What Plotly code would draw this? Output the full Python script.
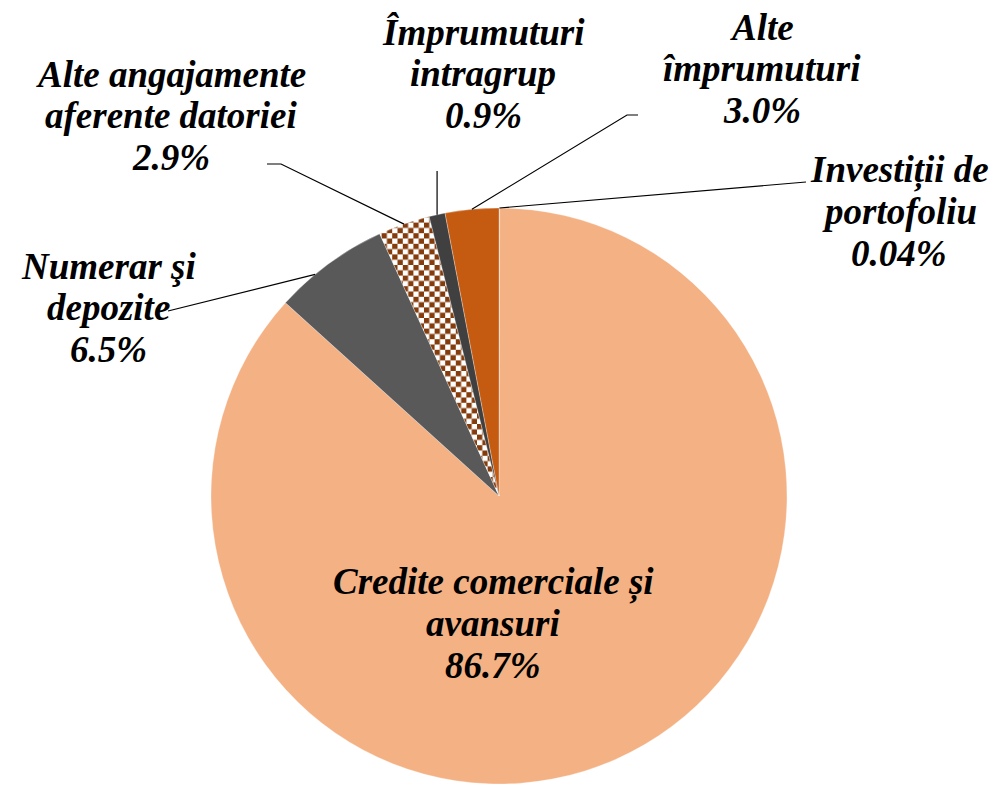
import math
import plotly.graph_objects as go

# ---- data ----
categories = ["Investiții de portofoliu", "Credite comerciale și avansuri", "Numerar şi depozite",
              "Alte angajamente aferente datoriei", "Împrumuturi intragrup", "Alte împrumuturi"]
values = [0.04, 86.7, 6.5, 2.9, 0.9, 3.0]
pct_labels = ["0.04%", "86.7%", "6.5%", "2.9%", "0.9%", "3.0%"]
name_lines = [["Investiții de", "portofoliu"], ["Credite comerciale și", "avansuri"],
              ["Numerar şi", "depozite"], ["Alte angajamente", "aferente datoriei"],
              ["Împrumuturi", "intragrup"], ["Alte", "împrumuturi"]]
colors = ["#F4B183", "#F4B183", "#595959", "#FFFFFF", "#404040", "#C55A11"]

W, H = 999, 785
CX, CY, R = 499, 496, 288

def px2paper(x, y):
    return x / W, 1 - y / H

total = sum(values)
starts = []
acc = 0
for v in values:
    starts.append(acc / total)
    acc += v

def edge(i, f=0.5):
    frac = starts[i] + f * values[i] / total
    a = frac * 2 * math.pi
    return CX + R * math.sin(a), CY - R * math.cos(a)

fig = go.Figure(go.Pie(
    values=values, labels=categories, sort=False, direction="clockwise", rotation=0,
    textinfo="none", hoverinfo="skip", showlegend=False,
    marker=dict(colors=colors, line=dict(color="rgba(255,255,255,0.6)", width=0.5),
                pattern=dict(shape=["", "", "", "x", "", ""], fgcolor="#843C0C",
                             bgcolor="#FFFFFF", size=10, solidity=0.5)),
    domain=dict(x=[(CX - R) / W, (CX + R) / W], y=[(H - CY - R) / H, (H - CY + R) / H]),
))

FS = 37
font = dict(family="Liberation Serif", size=FS, color="black", weight="bold", style="italic")
LINE = 41.5

# label block: center x, first baseline y (pixels)
label_pos = {
    0: (899, 183),
    1: (493, 595),
    2: (108, 279),
    3: (171, 87),
    4: (483, 45),
    5: (762, 40),
}
for i, (x, y0) in label_pos.items():
    lines = name_lines[i] + [pct_labels[i]]
    for k, t in enumerate(lines):
        base = y0 + k * LINE
        px, py = px2paper(x, base - 0.34 * FS)
        fig.add_annotation(x=px, y=py, xref="paper", yref="paper", text=t, showarrow=False,
                           font=font, xanchor="center", yanchor="middle")

# leader lines
def polyline(points):
    pts = [px2paper(x, y) for x, y in points]
    path = "M " + " L ".join(f"{x},{y}" for x, y in pts)
    fig.add_shape(type="path", path=path, xref="paper", yref="paper",
                  line=dict(color="black", width=1.2))

e0 = edge(0)
polyline([e0, (806, 182)])
e5 = edge(5)
polyline([e5, (627, 115), (638, 115)])
e4 = edge(4)
polyline([e4, (e4[0], 171)])
e3 = edge(3)
polyline([e3, (281, 164), (267, 164)])
e2 = edge(2, 0.35)
polyline([e2, (168, 311)])

fig.update_layout(width=W, height=H, autosize=False, margin=dict(l=0, r=0, t=0, b=0),
                  paper_bgcolor="white", plot_bgcolor="white",
                  font=dict(family="Liberation Serif", color="black"))

post = """
var ns='http://www.w3.org/2000/svg';
document.querySelectorAll('pattern').forEach(function(p){
  var s=10.6;
  p.setAttribute('width',s); p.setAttribute('height',s);
  p.removeAttribute('patternTransform');
  while(p.firstChild) p.removeChild(p.firstChild);
  function r(x,y,w,h,c){var e=document.createElementNS(ns,'rect');e.setAttribute('x',x);e.setAttribute('y',y);e.setAttribute('width',w);e.setAttribute('height',h);e.setAttribute('fill',c);p.appendChild(e);}
  r(0,0,s,s,'#ffffff'); r(0,0,s/2,s/2,'#843C0C'); r(s/2,s/2,s/2,s/2,'#843C0C');
});
document.body.style.margin='0';
"""
fig.write_html("out.html", post_script=post, config={"staticPlot": True})
